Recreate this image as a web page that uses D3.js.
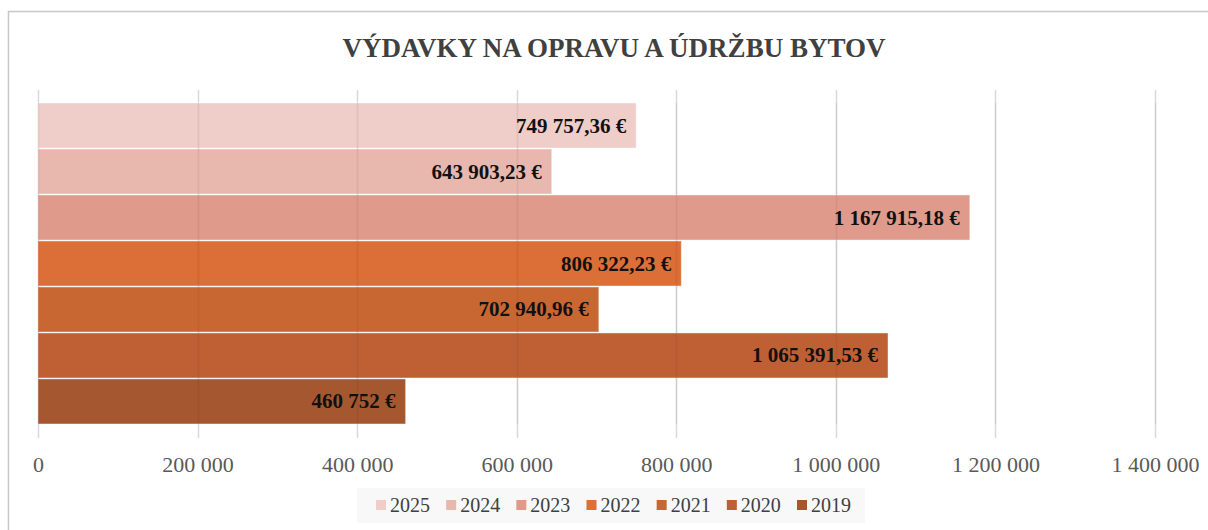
<html>
<head>
<meta charset="utf-8">
<script src="https://cdn.jsdelivr.net/npm/d3@7"></script>
<style>
  body { margin: 0; background: #fff; }
  text { font-family: "Liberation Serif", "Times New Roman", serif; }
</style>
</head>
<body>
<svg id="chart" width="1208" height="530"></svg>
<script>
// chart data, top to bottom
const years = ['2025', '2024', '2023', '2022', '2021', '2020', '2019'];
const amounts = [749757.36, 643903.23, 1167915.18, 806322.23, 702940.96, 1065391.53, 460752];
const amountLabels = ['749 757,36 €', '643 903,23 €', '1 167 915,18 €', '806 322,23 €', '702 940,96 €', '1 065 391,53 €', '460 752 €'];
const colors = ['#EFCDC8', '#E8B8AF', '#E09A8B', '#DC6E37', '#C96733', '#BE6034', '#A5572F'];
const tickValues = [0, 200000, 400000, 600000, 800000, 1000000, 1200000, 1400000];
const tickLabels = ['0', '200 000', '400 000', '600 000', '800 000', '1 000 000', '1 200 000', '1 400 000'];

const svg = d3.select('#chart');

// outer frame
svg.append('rect')
  .attr('x', 8.5).attr('y', 11.5)
  .attr('width', 1220).attr('height', 540)
  .attr('fill', 'none').attr('stroke', '#c8c8c8').attr('stroke-width', 1.5);

svg.append('text')
  .attr('x', 614).attr('y', 57)
  .attr('text-anchor', 'middle')
  .attr('font-size', 27).attr('font-weight', 'bold')
  .attr('fill', '#404040')
  .text('VÝDAVKY NA OPRAVU A ÚDRŽBU BYTOV');

var x = d3.scaleLinear().domain([0, 1400000]).range([38, 1155]);
var y = d3.scaleBand().domain(years).range([103, 424]).paddingInner(0.02);

// grid under bars
svg.append('g')
  .selectAll('line')
  .data(tickValues)
  .enter().append('line')
  .attr('x1', d => Math.round(x(d)) + 0.5).attr('x2', d => Math.round(x(d)) + 0.5)
  .attr('y1', 90).attr('y2', 438)
  .attr('stroke', '#d9d9d9').attr('stroke-width', 1.5);

svg.append('g')
  .selectAll('rect')
  .data(years)
  .enter().append('rect')
  .attr('x', x(0))
  .attr('y', d => y(d))
  .attr('width', (d, i) => x(amounts[i]) - x(0))
  .attr('height', y.bandwidth())
  .attr('fill', (d, i) => colors[i])
  .attr('stroke', 'rgba(255,255,255,0.45)').attr('stroke-width', 1);

// faint grid showing through bars
svg.append('g')
  .selectAll('line')
  .data(tickValues)
  .enter().append('line')
  .attr('x1', d => Math.round(x(d)) + 0.5).attr('x2', d => Math.round(x(d)) + 0.5)
  .attr('y1', 103).attr('y2', 424)
  .attr('stroke', 'rgba(90,40,20,0.08)').attr('stroke-width', 1.5);

svg.append('g')
  .selectAll('text')
  .data(years)
  .enter().append('text')
  .attr('x', (d, i) => x(amounts[i]) - 10)
  .attr('y', d => y(d) + y.bandwidth() / 2 + 7)
  .attr('text-anchor', 'end')
  .attr('font-size', 21).attr('font-weight', 'bold')
  .attr('fill', '#111')
  .text((d, i) => amountLabels[i]);

// bottom axis labels
svg.append('g')
  .attr('transform', 'translate(0,424)')
  .call(d3.axisBottom(x).tickValues(tickValues).tickSize(0).tickPadding(32)
    .tickFormat((d, i) => tickLabels[i]))
  .call(g => g.select('.domain').remove())
  .selectAll('text')
  .attr('font-size', 22).attr('fill', '#595959')
  .attr('font-family', '"Liberation Serif", serif');

// legend
svg.append('rect')
  .attr('x', 357).attr('y', 488).attr('width', 508).attr('height', 35)
  .attr('fill', '#f8f8f8');

var legendX = d3.scalePoint().domain(years).range([376, 797]);
var leg = svg.append('g').selectAll('g')
  .data(years)
  .enter().append('g')
  .attr('transform', d => 'translate(' + legendX(d) + ',505)');
leg.append('rect')
  .attr('x', 0).attr('y', -5).attr('width', 10).attr('height', 10)
  .attr('fill', (d, i) => colors[i]);
leg.append('text')
  .attr('x', 14).attr('y', 7)
  .attr('font-size', 20).attr('fill', '#404040')
  .text(d => d);
</script>
</body>
</html>
